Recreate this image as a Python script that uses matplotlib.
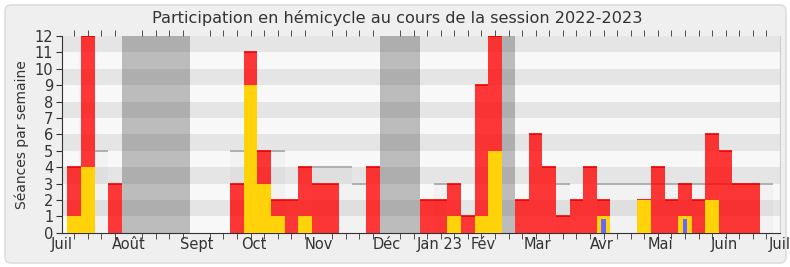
import matplotlib
matplotlib.use("Agg")
import matplotlib.pyplot as plt
from matplotlib.patches import FancyBboxPatch

# ---------- data (one value per week, session 2022-2023) ----------
weeks = list(range(52))
presences = [4, 12, 0, 3, 0, 0, 0, 0, 0, 0, 0, 0, 3, 11, 5, 2, 2, 4, 3, 3,
             0, 0, 4, 0, 0, 0, 2, 2, 3, 1, 9, 12, 0, 2, 6, 4, 1, 2, 4, 2,
             0, 0, 2, 4, 2, 3, 2, 6, 5, 3, 3, 0]
participations = [1, 4, 0, 0, 0, 0, 0, 0, 0, 0, 0, 0, 0, 9, 3, 1, 0, 1, 0, 0,
                  0, 0, 0, 0, 0, 0, 0, 0, 1, 0, 1, 5, 0, 0, 0, 0, 0, 0, 0, 1,
                  0, 0, 2, 0, 0, 1, 0, 2, 0, 0, 0, 0]
questions = [0] * 39 + [1] + [0] * 5 + [1] + [0] * 6
mediane = [0, 0, 5, 0, 0, 0, 0, 0, 0, 0, 0, 0, 5, 5, 5, 5, 0, 0, 4, 4,
           4, 3, 0, 0, 0, 0, 0, 3, 0, 0, 0, 0, 0, 0, 0, 0, 3, 0, 0, 3,
           3, 3, 3, 3, 3, 3, 3, 3, 3, 3, 3, 3]
vacances = [4, 5, 6, 7, 8, 23, 24, 25, 32]
mois = ["Juil", "Août", "Sept", "Oct", "Nov", "Déc", "Jan 23", "Fév",
        "Mar", "Avr", "Mai", "Juin", "Juil"]
mois_pos = [-0.92, 4.0, 9.0, 13.2, 18.0, 23.0, 26.9, 30.1, 34.1, 38.9,
            43.2, 47.9, 52.0]

TXT = "#333333"
plt.rcParams["font.family"] = ["DejaVu Sans"]

W, H = 790, 267
fig = plt.figure(figsize=(W / 100, H / 100), dpi=100, facecolor="white")

# rounded light-grey frame, drawn in a background axes
bg = fig.add_axes([0, 0, 1, 1], zorder=-5)
bg.set_axis_off()
bg.set_xlim(0, W)
bg.set_ylim(0, H)
bg.add_patch(FancyBboxPatch((5, 4), 781, 258,
                            boxstyle="round,pad=0,rounding_size=6",
                            facecolor="#efefef", edgecolor="#dedede",
                            linewidth=1.2))

ax = fig.add_axes([61.7 / W, 1 - 232.7 / H, (780 - 61.7) / W, (232.7 - 36) / H],
                  zorder=1)
ax.set_facecolor("#f8f8f8")
ax.set_xlim(-0.92, 52.0)
ax.set_ylim(0, 12)

# horizontal stripes
for k in range(1, 12, 2):
    ax.axhspan(k, k + 1, color="#e5e5e5", lw=0, zorder=0)

# holidays
for v in vacances:
    ax.axvspan(v - 0.5, v + 0.5, color="black", alpha=0.24, lw=0, zorder=1)

# median of all deputies
ax.bar(weeks, mediane, width=1, color="black", alpha=0.025, lw=0, zorder=1)
for w, m in zip(weeks, mediane):
    if m > 0:
        ax.hlines(m, w - 0.5, w + 0.5, color="#aaaaaa", lw=1.3, zorder=1.5)

# presences / participations / questions
ax.bar(weeks, presences, width=1, color="#ff0000", alpha=0.78, lw=0, zorder=2)
for w, p in zip(weeks, presences):
    if p > 0:
        ax.hlines(p, w - 0.5, w + 0.5, color="#ee0000", lw=1.2, zorder=2.1)
ax.bar(weeks, participations, width=1, color="#ffd20a", lw=0, zorder=3)
ax.bar(weeks, [q * 0.85 for q in questions], width=0.36, color="#6666ff",
       lw=0, zorder=4)

# axes styling
ax.spines["top"].set_visible(False)
ax.spines["right"].set_color("#cfcfcf")
ax.spines["left"].set_color(TXT)
ax.spines["bottom"].set_color(TXT)

ax.set_yticks(range(13))
ax.tick_params(axis="y", length=4, color=TXT, labelcolor=TXT, labelsize=10.5,
               pad=2)

ax.set_xticks(mois_pos)
ax.set_xticklabels(mois)
ax.set_xticks(range(53), minor=True)
ax.tick_params(axis="x", which="major", length=0, labelcolor=TXT,
               labelsize=10.5, pad=3)
ax.tick_params(axis="x", which="minor", length=4, color=TXT, top=True,
               direction="out")

ax.set_ylabel("Séances par semaine", color=TXT, fontsize=10, labelpad=4)
fig.text(0.503, 1 - 18 / H, "Participation en hémicycle au cours de la session 2022-2023",
         ha="center", va="center", fontsize=11.6, color=TXT)

fig.savefig("out.png", dpi=100, facecolor="white")
